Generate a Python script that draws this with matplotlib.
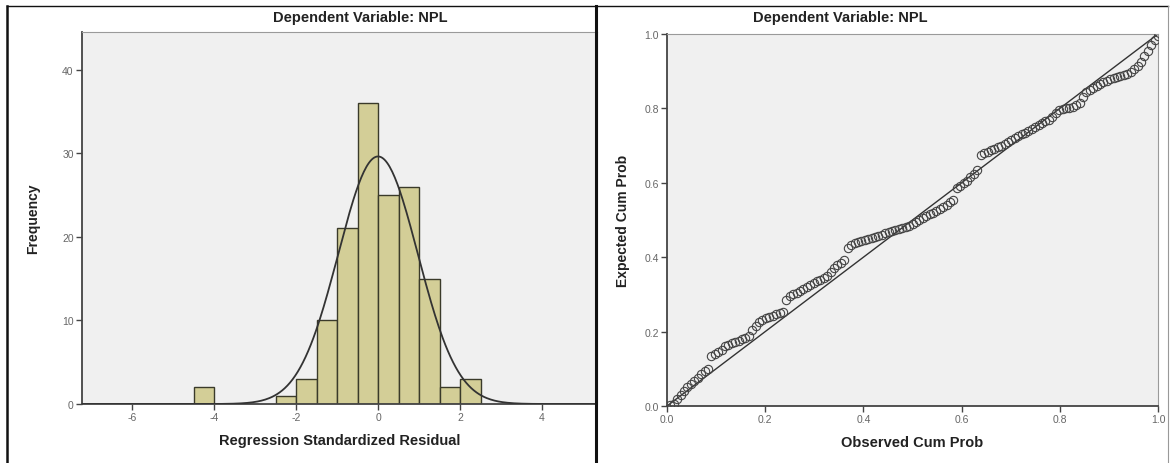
import numpy as np
import matplotlib
matplotlib.use("Agg")
import matplotlib.pyplot as plt
from matplotlib.lines import Line2D

plt.rcParams["font.family"] = ["Liberation Sans", "DejaVu Sans"]
plt.rcParams["axes.unicode_minus"] = False

# --- histogram of regression standardized residuals ---------------------
bin_left = [-4.5, -2.5, -2.0, -1.5, -1.0, -0.5, 0.0, 0.5, 1.0, 1.5, 2.0]
bin_count = [2, 1, 3, 10, 21, 36, 25, 26, 15, 2, 3]
bin_width = 0.5
res_mean = 0.0
res_std = 0.97
n_obs = 144

# --- normal P-P plot: expected cum prob, in rank order -------------------
expected_cum = [
    0.003, 0.006, 0.018, 0.030, 0.040, 0.050, 0.058, 0.066, 0.075, 0.085, 0.095, 0.100,
    0.135, 0.140, 0.145, 0.150, 0.160, 0.165, 0.170, 0.172, 0.175, 0.180, 0.183, 0.187,
    0.205, 0.215, 0.225, 0.232, 0.236, 0.240, 0.243, 0.246, 0.250, 0.254, 0.285, 0.295,
    0.300, 0.305, 0.310, 0.315, 0.320, 0.325, 0.330, 0.335, 0.340, 0.345, 0.350, 0.360,
    0.370, 0.378, 0.385, 0.392, 0.425, 0.432, 0.437, 0.440, 0.443, 0.446, 0.449, 0.452,
    0.455, 0.458, 0.461, 0.464, 0.467, 0.470, 0.473, 0.476, 0.479, 0.482, 0.485, 0.490,
    0.495, 0.500, 0.505, 0.510, 0.515, 0.520, 0.525, 0.530, 0.535, 0.540, 0.548, 0.555,
    0.585, 0.592, 0.600, 0.606, 0.615, 0.625, 0.635, 0.676, 0.680, 0.684, 0.688, 0.692,
    0.696, 0.700, 0.705, 0.710, 0.715, 0.720, 0.725, 0.730, 0.735, 0.740, 0.745, 0.750,
    0.755, 0.760, 0.765, 0.770, 0.778, 0.787, 0.795, 0.798, 0.800, 0.802, 0.804, 0.808,
    0.815, 0.830, 0.845, 0.850, 0.855, 0.860, 0.865, 0.870, 0.875, 0.878, 0.882, 0.885,
    0.888, 0.890, 0.893, 0.897, 0.905, 0.915, 0.925, 0.940, 0.955, 0.970, 0.985, 0.995,
]
observed_cum = np.arange(1, len(expected_cum) + 1) / len(expected_cum)

W, H = 1171, 464
fig = plt.figure(figsize=(W / 100, H / 100), dpi=100)
fig.patch.set_facecolor("white")

BG = "#f0f0f0"
AX = "#444444"
TICK = "#666666"
BAR = "#d3ce97"


def frac(x0, y0, x1, y1):
    return [x0 / W, 1 - y1 / H, (x1 - x0) / W, (y1 - y0) / H]


def style(ax):
    ax.set_facecolor(BG)
    for s in ["left", "bottom"]:
        ax.spines[s].set_color(AX)
        ax.spines[s].set_linewidth(1.3)
    for s in ["top", "right"]:
        ax.spines[s].set_color("#9a9a9a")
        ax.spines[s].set_linewidth(0.8)
    ax.tick_params(direction="out", length=4, width=1, color=AX,
                   labelsize=7.5, labelcolor=TICK, pad=2)


# --- left: histogram ----------------------------------------------------
ax1 = fig.add_axes(frac(82, 33, 597, 405))
style(ax1)
ax1.bar(bin_left, bin_count, width=bin_width, align="edge", color=BAR,
        edgecolor="#3a3a2a", linewidth=1.0, zorder=2)
xs = np.linspace(-7.2, 5.4, 400)
curve = n_obs * bin_width * np.exp(-0.5 * ((xs - res_mean) / res_std) ** 2) / (res_std * np.sqrt(2 * np.pi))
ax1.plot(xs, curve, color="#333333", lw=1.3, zorder=3)
ax1.set_xlim(-7.22, 5.34)
ax1.set_ylim(0, 44.5)
ax1.set_xticks([-6, -4, -2, 0, 2, 4])
ax1.set_yticks([0, 10, 20, 30, 40])
ax1.set_xlabel("Regression Standardized Residual", fontsize=10.5, fontweight="bold",
               color="#222222", labelpad=8)
ax1.set_ylabel("Frequency", fontsize=10, fontweight="bold", color="#222222", labelpad=16)

# --- right: P-P plot ----------------------------------------------------
ax2 = fig.add_axes(frac(667, 35, 1158, 407))
style(ax2)
ax2.plot([0, 1], [0, 1], color="#333333", lw=1.0, zorder=2)
ax2.plot(observed_cum, expected_cum, "o", ms=6, mfc="none", mec="#444444",
         mew=0.8, zorder=3)
ax2.set_xlim(0, 1)
ax2.set_ylim(0, 1)
ticks = [0.0, 0.2, 0.4, 0.6, 0.8, 1.0]
ax2.set_xticks(ticks)
ax2.set_yticks(ticks)
ax2.set_xticklabels([f"{t:.1f}" for t in ticks])
ax2.set_yticklabels([f"{t:.1f}" for t in ticks])
ax2.set_xlabel("Observed Cum Prob", fontsize=10.5, fontweight="bold",
               color="#222222", labelpad=8)
ax2.set_ylabel("Expected Cum Prob", fontsize=10, fontweight="bold", color="#222222",
               labelpad=10)

# titles
fig.text(360 / W, 1 - 18 / H, "Dependent Variable: NPL", fontsize=10.5,
         fontweight="bold", color="#222222", ha="center", va="center")
fig.text(840 / W, 1 - 18 / H, "Dependent Variable: NPL", fontsize=10.5,
         fontweight="bold", color="#222222", ha="center", va="center")

# panel frames
frame = dict(transform=fig.transFigure, color="#111111")
fig.add_artist(Line2D([7 / W, 7 / W], [0, 1 - 7 / H], lw=1.8, **frame))
fig.add_artist(Line2D([7 / W, 1168 / W], [1 - 7 / H, 1 - 7 / H], lw=1.0, **frame))
fig.add_artist(Line2D([596 / W, 596 / W], [0, 1 - 7 / H], lw=2.2, **frame))
fig.add_artist(Line2D([1168 / W, 1168 / W], [0, 1 - 7 / H], lw=0.8,
                      transform=fig.transFigure, color="#999999"))

fig.savefig("out.png", dpi=100)
